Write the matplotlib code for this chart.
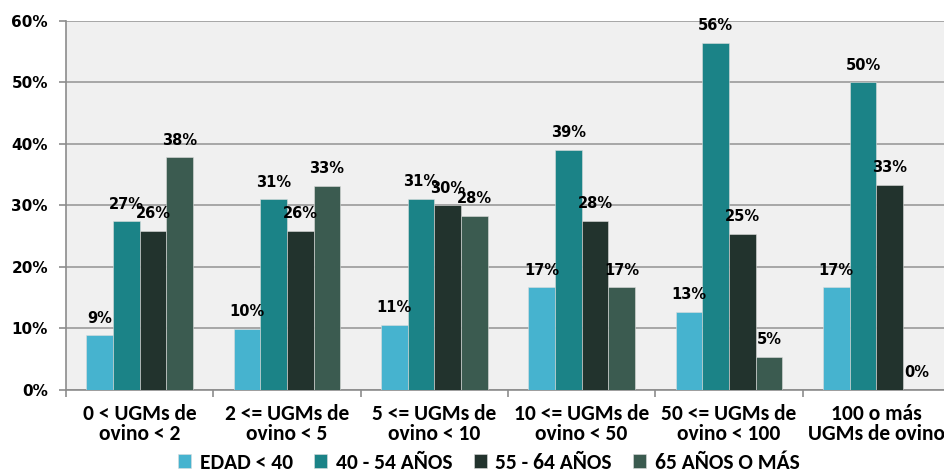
import numpy as np
import matplotlib.pyplot as plt
from matplotlib.ticker import FuncFormatter, FixedLocator

categories = ['0 < UGMs de\novino < 2', '2 <= UGMs de\novino < 5', '5 <= UGMs de\novino < 10',
              '10 <= UGMs de\novino < 50', '50 <= UGMs de\novino < 100', '100 o más\nUGMs de ovino']
series_names = ['EDAD < 40', '40 - 54 AÑOS', '55 - 64 AÑOS', '65 AÑOS O MÁS']
edad_40 = [8.9, 9.9, 10.6, 16.7, 12.7, 16.7]
edad_40_54 = [27.4, 31.0, 31.1, 39.0, 56.4, 50.0]
edad_55_64 = [25.9, 25.9, 30.0, 27.5, 25.4, 33.3]
edad_65 = [37.8, 33.2, 28.3, 16.7, 5.4, 0.0]
colors = ['#46B3CF', '#1B8387', '#22332D', '#3B5B50']

values = [edad_40, edad_40_54, edad_55_64, edad_65]
label_font = ['Carlito', 'Roboto Condensed', 'PT Sans Narrow', 'DejaVu Sans']

fig = plt.figure(figsize=(9.44, 4.75), dpi=100)
ax = fig.add_axes([0.0699, 0.179, 0.9365, 0.777])
ax.set_facecolor('#F0F0F0')

x = np.arange(len(categories))
w = 0.181
for i, (vals, name, c) in enumerate(zip(values, series_names, colors)):
    pos = x + (i - 1.5) * w
    bars = ax.bar(pos, vals, width=w, color=c, edgecolor='#DDDDDD', linewidth=0.4,
                  label=name, zorder=3)
    for b, v in zip(bars, vals):
        ax.annotate(f'{v:.0f}%', (b.get_x() + b.get_width() / 2, v),
                    xytext=(0, 7), textcoords='offset points', ha='center', va='bottom',
                    fontsize=10.5, fontweight='bold', family='DejaVu Sans', zorder=5)

ax.set_xlim(-0.5, len(categories) - 0.5)
ax.set_ylim(0, 60)
ax.set_yticks(range(0, 61, 10))
ax.yaxis.set_major_formatter(FuncFormatter(lambda v, p: f'{v:.0f}%'))
ax.yaxis.grid(True, color='#9A9A9A', linewidth=1.2, zorder=0)
ax.set_axisbelow(True)

ax.set_xticks(x)
ax.set_xticklabels(categories, fontsize=15.5, fontweight='bold',
                   family=label_font, linespacing=1.0)
ax.xaxis.set_minor_locator(FixedLocator(np.arange(-0.5, len(categories), 1)))
ax.tick_params(axis='x', which='major', length=0, pad=10)
ax.tick_params(axis='x', which='minor', length=5, color='#8C8C8C', width=1.2)
ax.tick_params(axis='y', length=5, color='#8C8C8C', width=1.2, pad=8)
for lab in ax.get_yticklabels():
    lab.set_fontweight('bold')
    lab.set_fontsize(11)
    lab.set_family('DejaVu Sans')

for s in ['top', 'right']:
    ax.spines[s].set_visible(False)
for s in ['left', 'bottom']:
    ax.spines[s].set_color('#8C8C8C')
    ax.spines[s].set_linewidth(1.2)

leg = fig.legend(loc='center', bbox_to_anchor=(0.518, 0.026), ncol=4, frameon=False,
                 handlelength=0.6, handleheight=0.6, handletextpad=0.4, columnspacing=1.0,
                 borderpad=0.1, prop={'family': label_font, 'weight': 'bold', 'size': 15.5})

fig.savefig('out.png', dpi=100)
